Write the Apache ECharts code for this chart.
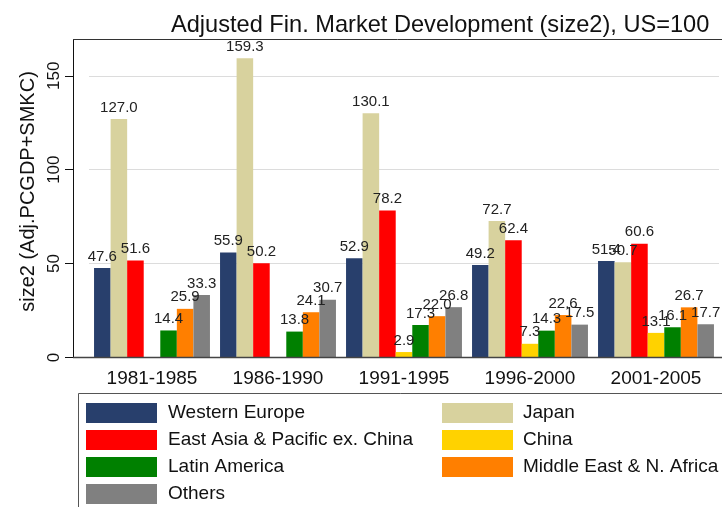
<!DOCTYPE html>
<html>
<head>
<meta charset="utf-8">
<script src="https://cdn.jsdelivr.net/npm/echarts@6/dist/echarts.min.js"></script>
<style>
  html, body { margin: 0; padding: 0; background: #fff; }
  #main { width: 722px; height: 507px; }
</style>
</head>
<body>
<div id="main"></div>
<script>
    // periods on the x axis
    var periods = ['1981-1985', '1986-1990', '1991-1995', '1996-2000', '2001-2005'];
    // size2 values, US=100 (null = no bar)
    var westernEurope = [47.6, 55.9, 52.9, 49.2, 51.4];
    var japan = [127.0, 159.3, 130.1, 72.7, 50.7];
    var eastAsia = [51.6, 50.2, 78.2, 62.4, 60.6];
    var china = [null, null, 2.9, 7.3, 13.1];
    var latinAmerica = [14.4, 13.8, 17.3, 14.3, 16.1];
    var middleEast = [25.9, 24.1, 22.0, 22.6, 26.7];
    var others = [33.3, 30.7, 26.8, 17.5, 17.7];
    var yTicks = [0, 50, 100, 150];

    var FONT = 'Liberation Sans, Arial, sans-serif';

    function bar(name, data, color) {
        return {
            name: name,
            type: 'bar',
            data: data,
            barGap: '0%',
            barCategoryGap: '8%',
            itemStyle: { color: color },
            label: {
                show: true,
                position: 'top',
                distance: 4,
                fontFamily: FONT,
                fontSize: 15,
                color: '#222',
                formatter: function (p) { return p.value == null ? '' : p.value.toFixed(1); }
            }
        };
    }

    var option = {
        animation: false,
        backgroundColor: '#fff',
        title: {
            text: 'Adjusted Fin. Market Development (size2), US=100',
            left: 166,
            top: 8,
            textStyle: { fontFamily: FONT, fontSize: 23.6, fontWeight: 'normal', color: '#111' }
        },
        grid: { left: 89, right: 3, top: 39.5, bottom: 149.5 },
        legend: [{
            orient: 'vertical',
            left: 86, top: 403, padding: 0,
            itemWidth: 71, itemHeight: 20, itemGap: 7,
            icon: 'rect',
            textStyle: { fontFamily: FONT, fontSize: 19, color: '#111', padding: [0, 0, 0, 6] },
            data: ['Western Europe', 'East Asia & Pacific ex. China', 'Latin America', 'Others']
        }, {
            orient: 'vertical',
            left: 442, top: 403, padding: 0,
            itemWidth: 71, itemHeight: 20, itemGap: 7,
            icon: 'rect',
            textStyle: { fontFamily: FONT, fontSize: 19, color: '#111', padding: [0, 0, 0, 5] },
            data: ['Japan', 'China', 'Middle East & N. Africa']
        }],
        xAxis: {
            type: 'category',
            data: periods,
            axisLine: { show: false },
            axisTick: { show: false },
            axisLabel: { fontFamily: FONT, fontSize: 19, color: '#111', margin: 12 }
        },
        yAxis: {
            type: 'value',
            min: 0,
            max: 169.3,
            offset: 16,
            name: 'size2 (Adj.PCGDP+SMKC)',
            nameLocation: 'middle',
            nameRotate: 90,
            nameGap: 27,
            nameTextStyle: { fontFamily: FONT, fontSize: 20, color: '#111', padding: [0, 0, 0, 14] },
            axisLine: { show: true, lineStyle: { color: '#111', width: 1 } },
            axisTick: { show: true, length: 8, lineStyle: { color: '#111' }, customValues: yTicks },
            axisLabel: {
                fontFamily: FONT, fontSize: 17, color: '#111',
                rotate: 90, margin: 10, customValues: yTicks
            },
            splitLine: { show: true, lineStyle: { color: '#dcdcdc', width: 1 } }
        },
        graphic: [
            { type: 'line', z: 100, shape: { x1: 73, y1: 39.5, x2: 722, y2: 39.5 }, style: { stroke: '#333', lineWidth: 1 } },
            { type: 'line', z: 100, shape: { x1: 73, y1: 357.5, x2: 722, y2: 357.5 }, style: { stroke: '#444', lineWidth: 1.5 } },
            { type: 'rect', z: 100, shape: { x: 78.5, y: 393.5, width: 700, height: 200 }, style: { fill: 'none', stroke: '#555', lineWidth: 1 } }
        ],
        series: [
            bar('Western Europe', westernEurope, '#283f6c'),
            bar('Japan', japan, '#d8d29e'),
            bar('East Asia & Pacific ex. China', eastAsia, '#ff0000'),
            bar('China', china, '#ffd200'),
            bar('Latin America', latinAmerica, '#008000'),
            bar('Middle East & N. Africa', middleEast, '#ff7f00'),
            bar('Others', others, '#808080')
        ]
    };

    var myChart = echarts.init(document.getElementById('main'));
    myChart.setOption(option);
</script>
</body>
</html>
